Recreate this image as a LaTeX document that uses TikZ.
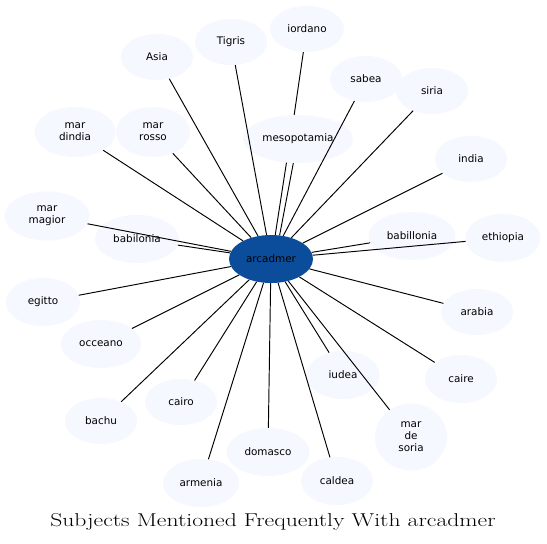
\documentclass[tikz,border=0pt]{standalone}
\usepackage{fontspec}
\usepackage{graphicx}
\usetikzlibrary{shapes.geometric}
\newfontfamily\nodefont{DejaVu Sans}
\definecolor{satfill}{HTML}{F5F8FE}
\definecolor{hubfill}{HTML}{0B4D9B}
\tikzset{
  sat/.style={ellipse, fill=satfill, inner sep=0pt, align=center,
    font=\nodefont\fontsize{10.4}{12}\selectfont, text=black},
  hub/.style={sat, fill=hubfill},
  link/.style={draw=black, line width=0.95pt}
}
\begin{document}
\begin{tikzpicture}[x=1pt,y=-1pt]
\fill[white] (0,0) rectangle (547,544);
\useasboundingbox (0,0) rectangle (547,544);
% nodes
\node[hub, minimum width=84pt, minimum height=48pt] (arc) at (271,259) {arcadmer};
\node[sat, minimum width=72pt, minimum height=46pt] (asia) at (157,57) {Asia};
\node[sat, minimum width=72pt, minimum height=46pt] (tigris) at (231,42) {Tigris};
\node[sat, minimum width=74pt, minimum height=46pt] (iordano) at (307,29) {iordano};
\node[sat, minimum width=72pt, minimum height=46pt] (sabea) at (366,79) {sabea};
\node[sat, minimum width=72pt, minimum height=46pt] (siria) at (432,91) {siria};
\node[sat, minimum width=81pt, minimum height=50pt] (mardindia) at (75,132) {mar\\dindia};
\node[sat, minimum width=74pt, minimum height=50pt] (marrosso) at (153,132) {mar\\rosso};
\node[sat, minimum width=110pt, minimum height=48pt] (meso) at (298,139) {mesopotamia};
\node[sat, minimum width=72pt, minimum height=46pt] (india) at (471,159) {india};
\node[sat, minimum width=85pt, minimum height=49pt] (marmagior) at (47,216) {mar\\magior};
\node[sat, minimum width=84pt, minimum height=48pt] (babilonia) at (137,239) {babilonia};
\node[sat, minimum width=87pt, minimum height=48pt] (babillonia) at (412,236) {babillonia};
\node[sat, minimum width=75pt, minimum height=48pt] (ethiopia) at (503,238) {ethiopia};
\node[sat, minimum width=74pt, minimum height=48pt] (egitto) at (43,302) {egitto};
\node[sat, minimum width=72pt, minimum height=46pt] (arabia) at (477,312) {arabia};
\node[sat, minimum width=80pt, minimum height=48pt] (occeano) at (101,344) {occeano};
\node[sat, minimum width=73pt, minimum height=48pt] (iudea) at (343,375) {iudea};
\node[sat, minimum width=72pt, minimum height=48pt] (caire) at (461,379) {caire};
\node[sat, minimum width=72pt, minimum height=46pt] (cairo) at (181,402) {cairo};
\node[sat, minimum width=72pt, minimum height=46pt] (bachu) at (101,421) {bachu};
\node[sat, minimum width=72pt, minimum height=67pt] (mardesoria) at (411,437) {mar\\de\\soria};
\node[sat, minimum width=83pt, minimum height=48pt] (domasco) at (268,452) {domasco};
\node[sat, minimum width=76pt, minimum height=48pt] (armenia) at (201,483) {armenia};
\node[sat, minimum width=72pt, minimum height=48pt] (caldea) at (337,481) {caldea};
% caption
\node (caption) at (273,522) {\scalebox{1.27}[1]{\fontsize{18.6}{22}\selectfont Subjects Mentioned Frequently With arcadmer}};
% connectors
\foreach \t in {asia,tigris,sabea,siria,mardindia,marrosso,india,marmagior,babilonia,babillonia,ethiopia,egitto,arabia,occeano,iudea,caire,cairo,bachu,mardesoria,domasco,armenia,caldea}
  \draw[link] (arc) -- (\t);
\draw[link] (iordano.-99.9) -- (meso.99.5);
\draw[link] (meso.-116.6) -- (arc.80);
\draw[link] (meso.-101.8) -- (arc.70.8);
\end{tikzpicture}
\end{document}
